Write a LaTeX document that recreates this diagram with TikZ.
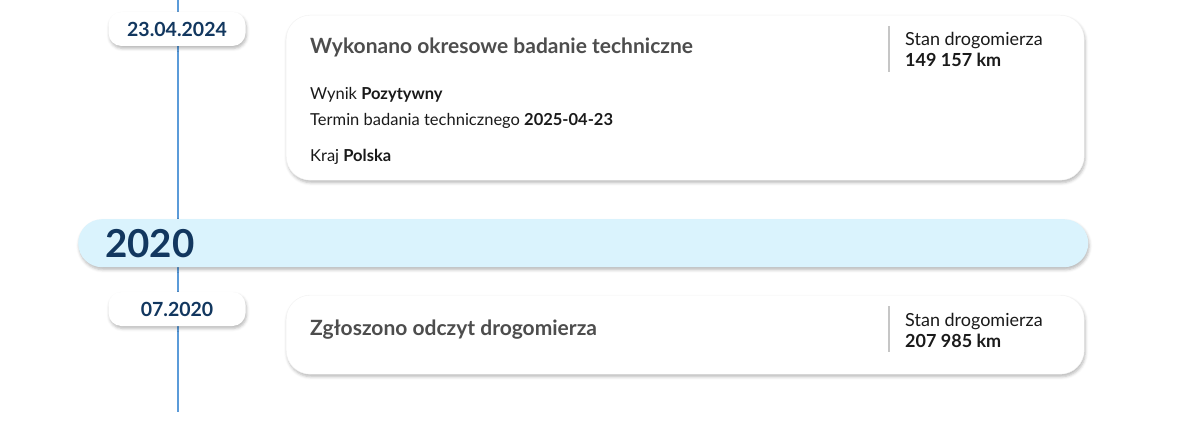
\documentclass[tikz,border=0pt]{standalone}
\usepackage{fontspec}
\setmainfont{Lato}
\usetikzlibrary{shadows.blur}
\definecolor{navy}{HTML}{12375F}
\definecolor{tline}{HTML}{5B9BD9}
\definecolor{yearbg}{HTML}{DAF3FD}
\definecolor{titlegray}{HTML}{4D4D4D}
\definecolor{sepgray}{HTML}{C6C6C6}
\definecolor{txt}{HTML}{1A1A1A}
\tikzset{
  softshadow/.style={blur shadow={shadow xshift=1pt, shadow yshift=-2.5pt, shadow blur radius=3pt, shadow opacity=28}},
  card/.style={draw=black!5, fill=white, rounded corners=24pt, anchor=north west, inner sep=0pt, minimum width=798pt, softshadow},
  datepill/.style={fill=white, rounded corners=13pt, minimum width=137pt, minimum height=34pt, inner sep=0pt, text=navy, font=\fontsize{19.5}{23}\selectfont\bfseries, softshadow},
  yearbar/.style={fill=yearbg, rounded corners=24pt, anchor=north west, inner sep=0pt, minimum width=1010pt, minimum height=48pt, softshadow},
  evtitle/.style={anchor=base west, inner sep=0pt, text=titlegray, font=\fontsize{21}{25}\selectfont\bfseries},
  info/.style={anchor=base west, inner sep=0pt, text=txt, font=\fontsize{16.5}{19}\selectfont},
  odo/.style={info, font=\fontsize{18}{21}\selectfont},
  odosep/.style={sepgray, line width=1.2pt}
}
\begin{document}
\begin{tikzpicture}[x=1pt, y=-1pt]
  \useasboundingbox (0,0) rectangle (1177,441);
  % timeline
  \coordinate (lineTop) at (178,0);
  \coordinate (lineEnd) at (178,412);
  \draw [tline, line width=1.5pt] (lineTop) -- (lineEnd);

  % 23.04.2024 - badanie techniczne
  \node [card, minimum height=165pt] (card1) at (286,15) {};
  \node [datepill] (date1) at (177,29) {23.04.2024};
  \node [evtitle] (title1) at (310,54) {Wykonano okresowe badanie techniczne};
  \node [info] (result1) at (310,100) {Wynik \textbf{Pozytywny}};
  \node [info] (term1) at (310,125) {Termin badania technicznego \textbf{2025-04-23}};
  \node [info] (country1) at (310,161) {Kraj \textbf{Polska}};
  \draw [odosep] (889,26) -- (889,72);
  \node [odo] (odo1) at (905,46) {Stan drogomierza};
  \node [odo] (odoval1) at (905,67) {\textbf{149 157 km}};

  % year 2020
  \node [yearbar] (year) at (78,219) {};
  \node [anchor=base west, inner sep=0pt, text=navy, font=\fontsize{38.5}{42}\selectfont\bfseries] (yearlbl) at (105,257) {2020};

  % 07.2020 - odczyt drogomierza
  \node [card, minimum height=79pt] (card2) at (286,295) {};
  \node [datepill] (date2) at (177,309) {07.2020};
  \node [evtitle] (title2) at (310,335) {Zgłoszono odczyt drogomierza};
  \draw [odosep] (889,306) -- (889,352);
  \node [odo] (odo2) at (905,326) {Stan drogomierza};
  \node [odo] (odoval2) at (905,347) {\textbf{207 985 km}};
\end{tikzpicture}
\end{document}
